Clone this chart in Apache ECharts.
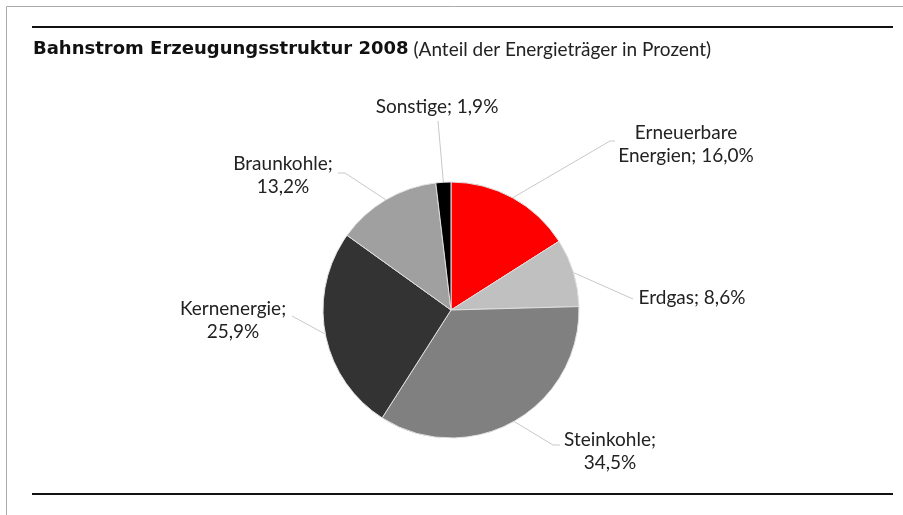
<!DOCTYPE html>
<html>
<head>
<meta charset="utf-8">
<script src="https://cdn.jsdelivr.net/npm/echarts@6/dist/echarts.min.js"></script>
<style>
html,body{margin:0;padding:0;background:#fff;}
#c{width:903px;height:515px;}
</style>
</head>
<body>
<div id="c"></div>
<script>
const categories = ["Erneuerbare\nEnergien", "Erdgas", "Steinkohle", "Kernenergie", "Braunkohle", "Sonstige"];
const values = [16.0, 8.6, 34.5, 25.9, 13.2, 1.9];
const colors = ["#ff0000", "#c0c0c0", "#808080", "#333333", "#a0a0a0", "#000000"];
const twoLine = [false, false, true, true, true, false];

// label placement (text block centre) and leader line bend/end points
const labelPlace = [
  { c: [686, 144], bend: [610, 141], end: [615, 141] },
  { c: [692, 298], bend: [633, 299], end: [633, 299] },
  { c: [610, 451], bend: [553, 445], end: [560, 445] },
  { c: [233, 320], bend: [292, 316], end: [292, 316] },
  { c: [283, 175], bend: [345, 173], end: [338, 173] },
  { c: [437, 107], bend: [438, 121], end: [438, 121] }
];

const chart = echarts.init(document.getElementById('c'));
const data = categories.map((n, i) => ({
  name: n, value: values[i], itemStyle: { color: colors[i] }
}));
chart.setOption({
  animation: false,
  title: {
    left: 28, top: 35,
    text: '{b|Bahnstrom Erzeugungsstruktur 2008} {n|(Anteil der Energieträger in Prozent)}',
    textStyle: {
      rich: {
        b: { fontFamily: 'DejaVu Sans', fontWeight: 'bold', fontSize: 18, color: '#111' },
        n: { fontFamily: 'Lato', fontWeight: 'normal', fontSize: 19, color: '#222' }
      }
    }
  },
  graphic: [
    { type: 'line', shape: { x1: 6.5, y1: 6.5, x2: 903, y2: 6.5 }, style: { stroke: '#aaa', lineWidth: 1 } },
    { type: 'line', shape: { x1: 6.5, y1: 6.5, x2: 6.5, y2: 515 }, style: { stroke: '#aaa', lineWidth: 1 } },
    { type: 'line', shape: { x1: 32, y1: 27, x2: 893, y2: 27 }, style: { stroke: '#111', lineWidth: 2 } },
    { type: 'line', shape: { x1: 32, y1: 494, x2: 893, y2: 494 }, style: { stroke: '#111', lineWidth: 2 } }
  ],
  series: [{
    type: 'pie',
    center: [451, 310],
    radius: 128,
    startAngle: 90,
    clockwise: true,
    data: data,
    itemStyle: { borderColor: '#e0e0e0', borderWidth: 1 },
    label: {
      show: true,
      fontFamily: 'Lato',
      fontSize: 19,
      color: '#222',
      lineHeight: 23,
      align: 'center',
      formatter: function (p) {
        const v = p.value.toFixed(1).replace('.', ',') + '%';
        const i = p.dataIndex;
        return p.name + ';' + (twoLine[i] ? '\n' : ' ') + v;
      }
    },
    labelLine: {
      show: true, length: 20, length2: 10,
      lineStyle: { color: '#c8c8c8', width: 1 }
    },
    labelLayout: function (params) {
      const p = labelPlace[params.dataIndex];
      const start = params.labelLinePoints ? params.labelLinePoints[0] : p.bend;
      return {
        x: p.c[0], y: p.c[1], align: 'center', verticalAlign: 'middle',
        labelLinePoints: [start, p.bend, p.end]
      };
    }
  }]
});
</script>
</body>
</html>
